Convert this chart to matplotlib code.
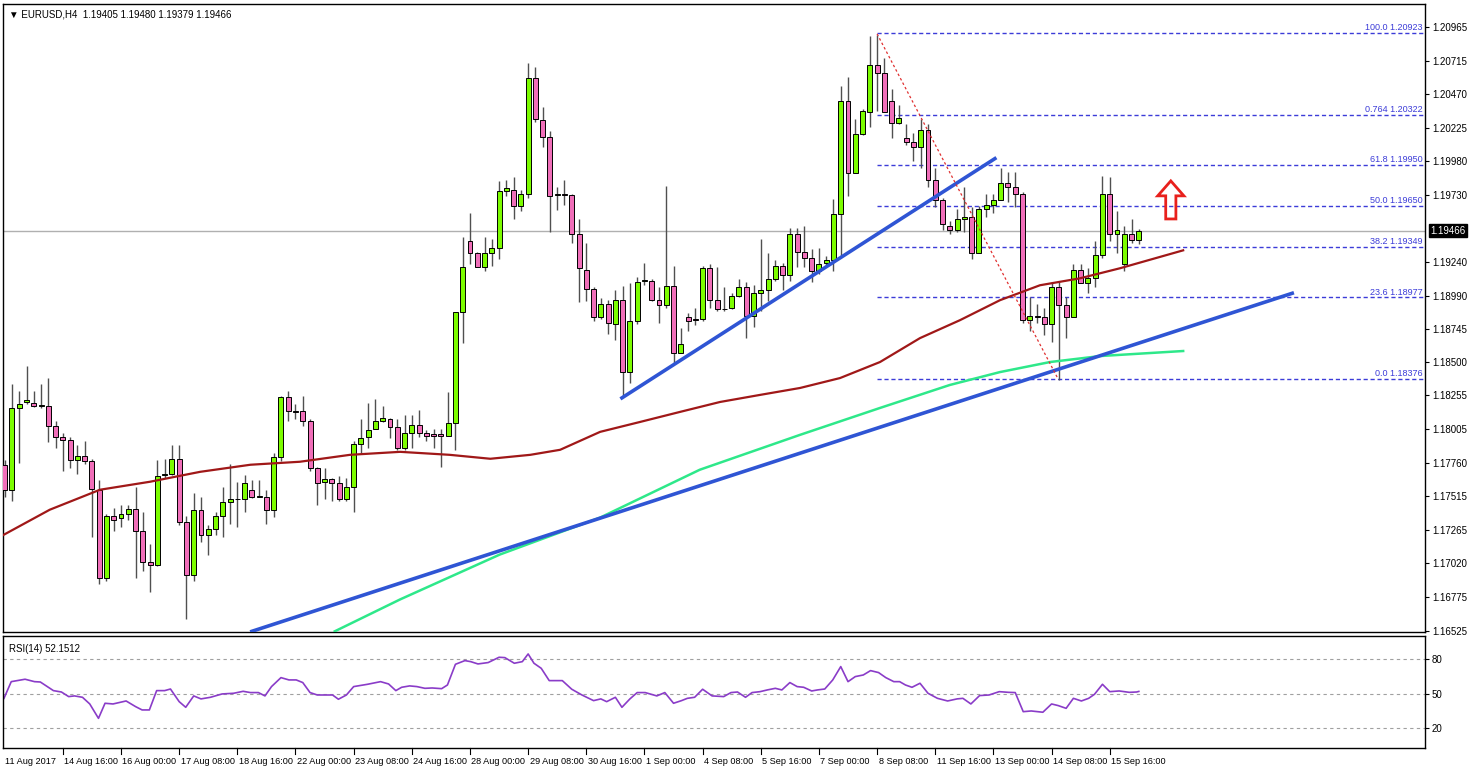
import matplotlib.pyplot as plt
from matplotlib.patches import Polygon
import numpy as np

# EURUSD H4 candles, 11 Aug 2017 .. 15 Sep 2017
opens = [
    1.1774, 1.1756, 1.1816, 1.1821, 1.1820, 1.1818, 1.1818, 1.1803, 1.1795, 1.1793,
    1.1778, 1.1781, 1.1777, 1.1756, 1.1691, 1.1737, 1.1735, 1.1738, 1.1742, 1.1726,
    1.1703, 1.1701, 1.1767, 1.1768, 1.1779, 1.1732, 1.1693, 1.1741, 1.1723, 1.1727,
    1.1737, 1.1747, 1.1749, 1.1749, 1.1756, 1.1751, 1.1751, 1.1741, 1.1780, 1.1824,
    1.1814, 1.1814, 1.1807, 1.1772, 1.1762, 1.1764, 1.1761, 1.1749, 1.1758, 1.1790,
    1.1795, 1.1801, 1.1807, 1.1808, 1.1802, 1.1787, 1.1798, 1.1804, 1.1798, 1.1797,
    1.1797, 1.1796, 1.1805, 1.1887, 1.1939, 1.1930, 1.1920, 1.1930, 1.1934, 1.1976,
    1.1977, 1.1965, 1.1974, 1.2059, 1.2028, 1.2016, 1.1973, 1.1974, 1.1973, 1.1944,
    1.1918, 1.1904, 1.1883, 1.1893, 1.1878, 1.1896, 1.1843, 1.1880, 1.1910, 1.1910,
    1.1896, 1.1892, 1.1906, 1.1857, 1.1883, 1.1882, 1.1882, 1.1919, 1.1896, 1.1889,
    1.1890, 1.1899, 1.1905, 1.1884, 1.1901, 1.1903, 1.1911, 1.1921, 1.1914, 1.1944,
    1.1931, 1.1927, 1.1917, 1.1923, 1.1925, 1.1959, 1.2042, 1.1989, 1.2018, 1.2034,
    1.2069, 1.2063, 1.2042, 1.2026, 1.2015, 1.2012, 1.2008, 1.2021, 1.1984, 1.1969,
    1.1950, 1.1947, 1.1955, 1.1957, 1.1930, 1.1963, 1.1966, 1.1969, 1.1982, 1.1979,
    1.1974, 1.1881, 1.1884, 1.1883, 1.1878, 1.1905, 1.1892, 1.1883, 1.1918, 1.1908,
    1.1912, 1.1929, 1.1974, 1.1944, 1.1922, 1.1944, 1.1940,
]
highs = [
    1.1778, 1.1834, 1.1829, 1.1847, 1.1829, 1.1834, 1.1838, 1.1807, 1.1798, 1.1795,
    1.1789, 1.1792, 1.1779, 1.1763, 1.1738, 1.1743, 1.1745, 1.1745, 1.1758, 1.1740,
    1.1716, 1.1778, 1.1779, 1.1789, 1.1789, 1.1737, 1.1754, 1.1751, 1.1730, 1.1740,
    1.1758, 1.1775, 1.1762, 1.1767, 1.1763, 1.1763, 1.1756, 1.1783, 1.1825, 1.1829,
    1.1819, 1.1825, 1.1808, 1.1773, 1.1772, 1.1765, 1.1766, 1.1765, 1.1792, 1.1808,
    1.1820, 1.1823, 1.1818, 1.1809, 1.1808, 1.1811, 1.1811, 1.1815, 1.1800, 1.1801,
    1.1801, 1.1828, 1.1887, 1.1942, 1.1960, 1.1931, 1.1942, 1.1941, 1.1983, 1.1984,
    1.1986, 1.1977, 1.2070, 1.2067, 1.2038, 1.2020, 1.1979, 1.1984, 1.1974, 1.1955,
    1.1938, 1.1905, 1.1897, 1.1896, 1.1903, 1.1906, 1.1908, 1.1913, 1.1923, 1.1911,
    1.1905, 1.1980, 1.1921, 1.1875, 1.1886, 1.1890, 1.1921, 1.1922, 1.1920, 1.1905,
    1.1901, 1.1911, 1.1909, 1.1907, 1.1941, 1.1930, 1.1925, 1.1923, 1.1949, 1.1949,
    1.1950, 1.1933, 1.1934, 1.1928, 1.1970, 1.2053, 1.2060, 1.2029, 1.2036, 1.2090,
    1.2091, 1.2074, 1.2051, 1.2039, 1.2025, 1.2019, 1.2029, 1.2025, 1.1993, 1.1971,
    1.1954, 1.1963, 1.1979, 1.1964, 1.1965, 1.1974, 1.1974, 1.1993, 1.1990, 1.1990,
    1.1975, 1.1898, 1.1893, 1.1890, 1.1909, 1.1909, 1.1898, 1.1922, 1.1922, 1.1919,
    1.1939, 1.1987, 1.1986, 1.1961, 1.1950, 1.1955, 1.1948,
]
lows = [
    1.1751, 1.1748, 1.1776, 1.1819, 1.1817, 1.1816, 1.1791, 1.1787, 1.1770, 1.1772,
    1.1768, 1.1775, 1.1721, 1.1687, 1.1689, 1.1726, 1.1729, 1.1734, 1.1691, 1.1696,
    1.1681, 1.1700, 1.1765, 1.1767, 1.1730, 1.1661, 1.1689, 1.1718, 1.1708, 1.1723,
    1.1721, 1.1731, 1.1729, 1.1740, 1.1750, 1.1751, 1.1731, 1.1736, 1.1777, 1.1807,
    1.1808, 1.1803, 1.1770, 1.1745, 1.1749, 1.1748, 1.1748, 1.1748, 1.1740, 1.1783,
    1.1787, 1.1801, 1.1806, 1.1794, 1.1785, 1.1785, 1.1787, 1.1795, 1.1792, 1.1787,
    1.1773, 1.1796, 1.1785, 1.1864, 1.1922, 1.1920, 1.1917, 1.1921, 1.1926, 1.1972,
    1.1955, 1.1961, 1.1971, 1.2027, 1.2008, 1.1946, 1.1962, 1.1966, 1.1938, 1.1894,
    1.1895, 1.1880, 1.1882, 1.1871, 1.1866, 1.1824, 1.1835, 1.1878, 1.1907, 1.1895,
    1.1879, 1.1890, 1.1849, 1.1857, 1.1873, 1.1877, 1.1880, 1.1890, 1.1888, 1.1888,
    1.1889, 1.1898, 1.1868, 1.1876, 1.1888, 1.1895, 1.1910, 1.1903, 1.1910, 1.1920,
    1.1920, 1.1909, 1.1915, 1.1920, 1.1917, 1.1928, 1.1972, 1.1989, 1.2017, 1.2023,
    1.2035, 1.2034, 1.2015, 1.2025, 1.2010, 1.1998, 1.1993, 1.1979, 1.1964, 1.1947,
    1.1944, 1.1946, 1.1946, 1.1926, 1.1930, 1.1957, 1.1960, 1.1969, 1.1968, 1.1964,
    1.1879, 1.1873, 1.1879, 1.1870, 1.1865, 1.1837, 1.1868, 1.1883, 1.1908, 1.1901,
    1.1905, 1.1927, 1.1939, 1.1930, 1.1917, 1.1938, 1.1937,
]
closes = [
    1.1756, 1.1816, 1.1819, 1.1822, 1.1818, 1.1818, 1.1803, 1.1795, 1.1793, 1.1778,
    1.1781, 1.1777, 1.1757, 1.1691, 1.1737, 1.1734, 1.1738, 1.1742, 1.1726, 1.1703,
    1.1701, 1.1766, 1.1768, 1.1779, 1.1732, 1.1693, 1.1741, 1.1723, 1.1727, 1.1737,
    1.1747, 1.1749, 1.1749, 1.1761, 1.1751, 1.1751, 1.1741, 1.1780, 1.1824, 1.1814,
    1.1813, 1.1807, 1.1772, 1.1761, 1.1764, 1.1761, 1.1749, 1.1758, 1.1790, 1.1794,
    1.1800, 1.1807, 1.1809, 1.1802, 1.1787, 1.1798, 1.1804, 1.1798, 1.1796, 1.1796,
    1.1796, 1.1805, 1.1887, 1.1920, 1.1930, 1.1920, 1.1930, 1.1934, 1.1976, 1.1978,
    1.1965, 1.1974, 1.2059, 1.2029, 1.2016, 1.1972, 1.1974, 1.1973, 1.1944, 1.1919,
    1.1904, 1.1883, 1.1893, 1.1879, 1.1896, 1.1843, 1.1880, 1.1909, 1.1910, 1.1896,
    1.1892, 1.1906, 1.1857, 1.1863, 1.1880, 1.1881, 1.1919, 1.1896, 1.1889, 1.1889,
    1.1899, 1.1905, 1.1884, 1.1901, 1.1903, 1.1911, 1.1921, 1.1914, 1.1944, 1.1931,
    1.1927, 1.1917, 1.1922, 1.1925, 1.1959, 1.2042, 1.1989, 1.2018, 1.2035, 1.2069,
    1.2063, 1.2034, 1.2026, 1.2030, 1.2012, 1.2008, 1.2021, 1.1984, 1.1969, 1.1952,
    1.1947, 1.1955, 1.1957, 1.1930, 1.1963, 1.1966, 1.1969, 1.1982, 1.1979, 1.1974,
    1.1881, 1.1884, 1.1883, 1.1878, 1.1905, 1.1892, 1.1883, 1.1918, 1.1908, 1.1912,
    1.1929, 1.1974, 1.1944, 1.1947, 1.1944, 1.1940, 1.19466,
]

# moving averages, sampled (candle index, price)
ma_red_idx = [-0.6, 6.2, 13.1, 20.0, 26.9, 33.8, 40.6, 47.5, 54.4, 61.2, 66.8, 72.3, 76.4, 81.9,
              87.4, 92.9, 98.4, 103.9, 109.4, 114.9, 120.4, 125.9, 131.4, 136.9, 142.4, 147.9,
              153.4, 162.1]
ma_red_val = [1.17216, 1.17414, 1.17561, 1.17620, 1.17693, 1.17745, 1.17767, 1.17818, 1.17840,
              1.17818, 1.17789, 1.17818, 1.17855, 1.17987, 1.18060, 1.18134, 1.18207, 1.18259,
              1.18310, 1.18383, 1.18501, 1.18677, 1.18809, 1.18956, 1.19066, 1.19117, 1.19191,
              1.19323]
ma_green_idx = [45.4, 54.4, 68.1, 81.9, 95.6, 109.4, 120.4, 130.0, 136.9, 143.8, 150.7, 162.1]
ma_green_val = [1.16519, 1.16754, 1.17084, 1.17356, 1.17708, 1.17965, 1.18163, 1.18332,
                1.18427, 1.18501, 1.18545, 1.18582]

# trend lines (start idx, start price, end idx, end price)
trend_long = (34.0, 1.16519, 177.1, 1.19007)
trend_short = (84.9, 1.18237, 136.2, 1.19998)
fib_swing = (120.0, 1.20916, 144.9, 1.18376)

fib_levels = ["100.0", "0.764", "61.8", "50.0", "38.2", "23.6", "0.0"]
fib_prices = [1.20923, 1.20322, 1.19950, 1.19650, 1.19349, 1.18977, 1.18376]

price_ticks = [1.20965, 1.20715, 1.20470, 1.20225, 1.19980, 1.19730, 1.19240, 1.18990,
               1.18745, 1.18500, 1.18255, 1.18005, 1.17760, 1.17515, 1.17265, 1.17020,
               1.16775, 1.16525]
last_price = 1.19466

rsi_idx = [-0.1, 0.9, 2.8, 4.1, 4.9, 6.0, 6.7, 7.8, 8.8, 9.6, 10.7, 11.7, 12.9, 13.8, 14.9,
           16.7, 18.0, 18.9, 19.9, 20.9, 22.0, 22.8, 24.0, 24.9, 26.0, 27.0, 28.3, 29.9, 31.5,
           32.8, 33.8, 34.9, 35.8, 36.7, 38.0, 39.1, 40.1, 41.0, 42.0, 43.0, 45.1, 45.9, 47.0,
           48.0, 49.9, 51.7, 52.8, 53.8, 54.6, 55.7, 56.7, 57.8, 58.8, 60.1, 60.9, 62.0, 63.3,
           64.1, 65.1, 66.5, 68.0, 68.8, 70.1, 71.2, 72.0, 72.8, 73.8, 74.9, 76.7, 78.0, 79.4,
           81.0, 82.0, 82.8, 84.0, 84.9, 86.0, 87.0, 88.1, 89.7, 90.8, 92.0, 93.1, 93.9, 94.9,
           96.0, 97.3, 98.9, 99.9, 100.8, 101.9, 102.8, 103.9, 104.9, 106.0, 106.9, 108.0,
           109.0, 109.9, 111.0, 111.8, 112.8, 113.9, 115.0, 116.0, 117.0, 118.1, 119.1, 120.2,
           121.2, 122.3, 123.1, 123.9, 124.8, 125.9, 127.0, 128.3, 129.7, 131.0, 131.8, 132.9,
           134.1, 135.4, 136.8, 138.1, 139.0, 140.1, 141.2, 142.8, 144.0, 144.9, 146.0, 147.0,
           148.1, 149.1, 149.9, 151.0, 152.0, 153.3, 154.7, 155.7, 156.0]
rsi_val = [46.2, 60.7, 62.8, 60.7, 60.4, 55.8, 52.9, 51.7, 47.7, 48.3, 47.1, 41.3, 28.8, 41.9,
           41.3, 43.9, 39.0, 36.1, 36.1, 52.9, 52.9, 54.3, 43.3, 38.4, 48.3, 45.7, 47.1, 50.0,
           50.6, 52.3, 51.2, 51.2, 48.3, 56.4, 64.2, 62.2, 62.2, 59.9, 51.2, 49.1, 49.1, 45.4,
           49.1, 56.4, 58.4, 60.7, 58.7, 52.9, 55.8, 57.0, 56.4, 54.9, 55.2, 54.6, 57.8, 75.8,
           79.0, 78.1, 76.1, 77.3, 81.9, 81.6, 76.7, 78.1, 84.8, 76.7, 72.3, 61.6, 61.6, 54.1,
           49.1, 44.2, 45.7, 43.3, 47.1, 38.4, 45.7, 51.2, 51.2, 48.3, 51.2, 41.9, 44.2, 46.2,
           47.1, 54.1, 48.3, 47.7, 51.2, 51.7, 47.1, 51.2, 52.0, 53.5, 54.9, 53.5, 59.9, 56.4,
           55.8, 52.6, 53.5, 54.3, 62.2, 73.8, 60.7, 65.1, 66.5, 70.3, 68.6, 64.2, 60.7, 60.7,
           57.8, 55.8, 59.3, 50.6, 46.2, 43.9, 45.7, 46.2, 41.3, 48.6, 49.1, 52.0, 51.4, 51.2,
           34.6, 35.2, 34.1, 41.3, 39.9, 37.5, 46.2, 43.9, 46.2, 49.7, 58.4, 52.0, 52.6, 51.4,
           51.7, 52.2]

date_labels = ["11 Aug 2017", "14 Aug 16:00", "16 Aug 00:00", "17 Aug 08:00", "18 Aug 16:00",
               "22 Aug 00:00", "23 Aug 08:00", "24 Aug 16:00", "28 Aug 00:00", "29 Aug 08:00",
               "30 Aug 16:00", "1 Sep 00:00", "4 Sep 08:00", "5 Sep 16:00", "7 Sep 00:00",
               "8 Sep 08:00", "11 Sep 16:00", "13 Sep 00:00", "14 Sep 08:00", "15 Sep 16:00"]
date_idx = [0, 8, 16, 24, 32, 40, 48, 56, 64, 72, 80, 88, 96, 104, 112, 120, 128, 136, 144, 152]

BULL = "#7cfc00"
BEAR = "#f06eb9"
FIB = "#3c3cd8"
TXT = 7

plt.rcParams["font.family"] = ["Liberation Sans", "DejaVu Sans"]

W, H = 1480, 772
fig = plt.figure(figsize=(W / 100, H / 100), dpi=100)

ax = fig.add_axes([3 / W, (H - 632) / H, 1422 / W, 628 / H])
rax = fig.add_axes([3 / W, (H - 748) / H, 1422 / W, 112 / H])

px = 7.27  # pixels per candle
xlim = ((3 - 4.7) / px, (1425 - 4.7) / px)

for a in (ax, rax):
    a.set_xlim(*xlim)
    for s in a.spines.values():
        s.set_linewidth(1.0)
        s.set_color("black")
    a.tick_params(axis="x", bottom=False, labelbottom=False)
    a.yaxis.tick_right()
    a.tick_params(axis="y", length=3, width=0.8, labelsize=TXT, pad=2, colors="black")

ax.set_ylim(1.16514, 1.21136)

o = np.array(opens)
hi = np.array(highs)
lo = np.array(lows)
c = np.array(closes)
x = np.arange(len(c))
bull = c >= o

ax.vlines(x, lo, hi, color="#505050", lw=1.0, zorder=3)
body = np.where(np.abs(c - o) < 0.00004, 0.00004, c - o)
ax.bar(x, body, bottom=o, width=0.68, color=np.where(bull, BULL, BEAR),
       edgecolor="black", linewidth=0.7, zorder=4)

ax.plot(ma_red_idx, ma_red_val, color="#a01818", lw=1.6, zorder=5)
ax.plot(ma_green_idx, ma_green_val, color="#2ee88a", lw=1.8, zorder=5)

for t in (trend_long, trend_short):
    ax.plot([t[0], t[2]], [t[1], t[3]], color="#2f55d4", lw=2.6, zorder=6)
ax.plot([fib_swing[0], fib_swing[2]], [fib_swing[1], fib_swing[3]], color="#e03030",
        lw=0.9, ls=(0, (2, 2)), zorder=6)

for lab, p in zip(fib_levels, fib_prices):
    ax.plot([fib_swing[0], xlim[1]], [p, p], color=FIB, lw=1.0, ls=(0, (3, 2)), zorder=2)
    ax.text(xlim[1] - 0.3, p + 0.00005, f"{lab} {p:.5f}", color=FIB, fontsize=6.5,
            ha="right", va="bottom", zorder=7)

ax.axhline(last_price, color="#b0b0b0", lw=1.0, zorder=1)
ax.set_yticks(price_ticks)
ax.set_yticklabels([f"{v:.5f}" for v in price_ticks])
ax.text(1.004, last_price, f"{last_price:.5f}", transform=ax.get_yaxis_transform(),
        fontsize=TXT, color="white", va="center", ha="left", zorder=8,
        bbox=dict(boxstyle="square,pad=0.15", fc="black", ec="black"))

# red outlined up arrow
ac, ay = 160.4, 1.19554
aw, hw, hh, top = 0.7, 1.8, 0.00110, 1.19834
arrow = Polygon([(ac - aw, ay), (ac + aw, ay), (ac + aw, top - hh), (ac + hw, top - hh),
                 (ac, top), (ac - hw, top - hh), (ac - aw, top - hh)],
                closed=True, fill=False, edgecolor="#e8201c", lw=2.0, zorder=7)
ax.add_patch(arrow)

ax.text(0.004, 0.992, "\u25bc EURUSD,H4  1.19405 1.19480 1.19379 1.19466",
        transform=ax.transAxes, fontsize=TXT, va="top", ha="left",
        family=["Liberation Sans", "DejaVu Sans"])

# RSI panel
rax.set_ylim(3.0, 100.4)
rax.set_yticks([80, 50, 20])
for lvl in (80, 50, 20):
    rax.axhline(lvl, color="#a0a0a0", lw=0.8, ls=(0, (3, 3)))
rax.plot(rsi_idx, rsi_val, color="#8a3cc8", lw=1.2)
rax.text(0.004, 0.93, "RSI(14) 52.1512", transform=rax.transAxes, fontsize=TXT,
         va="top", ha="left")

for i, lab in zip(date_idx, date_labels):
    xx = i if i else -0.1
    if i:
        rax.plot([i, i], [3.0, -2.0], color="black", lw=0.8, clip_on=False)
    rax.text(xx + 0.2, -4.5, lab, fontsize=6.6, ha="left", va="top", clip_on=False)

fig.savefig("out.png", dpi=100)
